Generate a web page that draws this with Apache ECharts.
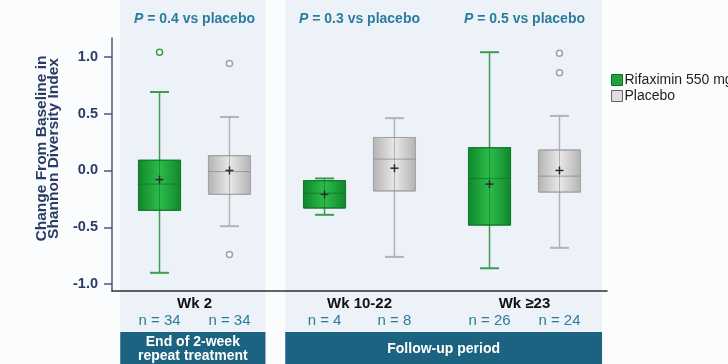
<!DOCTYPE html>
<html><head><meta charset="utf-8">
<script src="https://cdn.jsdelivr.net/npm/echarts@6/dist/echarts.min.js"></script>
<style>html,body{margin:0;padding:0;background:#fbfcfd}#chart{width:728px;height:364px}</style>
</head><body><div id="chart"></div>
<script>
// ---------- data ----------
const groups = ['Wk 2', 'Wk 10-22', 'Wk ≥23'];
const pValues = ['0.4', '0.3', '0.5'];
const rifaxN = [34, 4, 26];
const placeboN = [34, 8, 24];
// [min, Q1, median, Q3, max]
const rifaxBox = [[-0.90, -0.35, -0.12, 0.09, 0.69], [-0.39, -0.33, -0.20, -0.09, -0.07], [-0.86, -0.48, -0.07, 0.20, 1.04]];
const rifaxMean = [-0.08, -0.21, -0.12];
const placeboBox = [[-0.49, -0.21, -0.01, 0.13, 0.47], [-0.76, -0.18, 0.10, 0.29, 0.46], [-0.68, -0.19, -0.05, 0.18, 0.48]];
const placeboMean = [0.00, 0.02, 0.00];
const rifaxOutliers = [[0, 1.04]];
const placeboOutliers = [[0, 0.94], [0, -0.74], [2, 1.03], [2, 0.86]];
const periods = [{ label: 'End of 2-week\nrepeat treatment', first: 0, last: 0 }, { label: 'Follow-up period', first: 1, last: 2 }];
const yTicks = [-1.0, -0.5, 0.0, 0.5, 1.0];
const seriesNames = ['Rifaximin 550 mg', 'Placebo'];
const yAxisTitle = 'Change From Baseline in\nShannon Diversity Index';

// ---------- styles ----------
const FONT = "'Liberation Sans', Arial, Helvetica, sans-serif";
const NAVY = '#2c3b66', TEAL = '#2b7d9c', DARKTEAL = '#1b6380';
const BOX_OFFSET = 0.212, BOX_WIDTH = 0.255, CAP_WIDTH = 0.115, BAND_LEFT = 0.45, BAND_RIGHT = 0.43;
const greenStyle = { whisker: '#3d9c50', border: '#127a2b', inner: 'rgba(20,110,40,0.6)', median: 'rgba(20,110,40,0.7)',
  stops: [{ offset: 0, color: '#10862b' }, { offset: 0.5, color: '#2cbd4b' }, { offset: 1, color: '#10862b' }], outlier: '#3d9c50' };
const grayStyle = { whisker: '#b3b3b3', border: '#a3a3a3', inner: 'rgba(150,150,150,0.7)', median: 'rgba(140,140,140,0.8)',
  stops: [{ offset: 0, color: '#b2b2b2' }, { offset: 0.5, color: '#e9e9e9' }, { offset: 1, color: '#b2b2b2' }], outlier: '#a0a0a0' };

function boxRenderer(side, st) {
  return function (params, api) {
    const gi = api.value(0);
    const bw = api.size([1, 0])[0];
    const cx = api.coord([gi, 0])[0] + side * BOX_OFFSET * bw;
    const w = BOX_WIDTH * bw, cap = CAP_WIDTH * bw;
    const y = k => api.coord([gi, api.value(k)])[1];
    const yMin = y(1), yQ1 = y(2), yMed = y(3), yQ3 = y(4), yMax = y(5), yMean = y(6);
    const line = (x1, y1, x2, y2, stroke, lw) => ({ type: 'line', shape: { x1, y1, x2, y2 }, style: { stroke, lineWidth: lw } });
    return { type: 'group', children: [
      line(cx, yQ3, cx, yMax, st.whisker, 1.5),
      line(cx, yMin, cx, yQ1, st.whisker, 1.5),
      line(cx - cap / 2, yMax, cx + cap / 2, yMax, st.whisker, 2),
      line(cx - cap / 2, yMin, cx + cap / 2, yMin, st.whisker, 2),
      { type: 'rect', shape: { x: cx - w / 2, y: yQ3, width: w, height: yQ1 - yQ3 },
        style: { fill: new echarts.graphic.LinearGradient(0, 0, 1, 0, st.stops), stroke: st.border, lineWidth: 1 } },
      line(cx, yQ3, cx, yQ1, st.inner, 1),
      line(cx - w / 2, yMed, cx + w / 2, yMed, st.median, 1),
      line(cx - 4, yMean, cx + 4, yMean, '#2b2b2b', 1.5),
      line(cx, yMean - 4, cx, yMean + 4, '#2b2b2b', 1.5)
    ] };
  };
}
function outlierRenderer(side, st) {
  return function (params, api) {
    const gi = api.value(0);
    const bw = api.size([1, 0])[0];
    const p = api.coord([gi, api.value(1)]);
    return { type: 'circle', shape: { cx: p[0] + side * BOX_OFFSET * bw, cy: p[1], r: 3 },
      style: { fill: '#ffffff', stroke: st.outlier, lineWidth: 1.5 } };
  };
}

const chart = echarts.init(document.getElementById('chart'), null, { renderer: 'canvas' });
const option = {
  backgroundColor: '#fbfcfd',
  animation: false,
  textStyle: { fontFamily: FONT },
  grid: { left: 112, right: 121, top: 38, bottom: 73 },
  legend: {
    orient: 'vertical', left: 606, top: 68, itemWidth: 11, itemHeight: 11, itemGap: 2,
    textStyle: { fontSize: 14, color: '#1f1f1f', fontFamily: FONT, padding: [0, 0, 0, -3] },
    data: [
      { name: seriesNames[0], icon: 'rect', itemStyle: { color: '#1fa33d', borderColor: '#0e6e24', borderWidth: 1 } },
      { name: seriesNames[1], icon: 'rect', itemStyle: { color: '#dedede', borderColor: '#666666', borderWidth: 1 } }
    ]
  },
  xAxis: {
    type: 'category', data: groups,
    axisLine: { onZero: false, lineStyle: { color: '#2f2f3a', width: 1.5 } },
    axisTick: { show: false },
    axisLabel: { margin: 5, fontSize: 15, fontWeight: 'bold', color: '#111111', fontFamily: FONT },
    splitLine: { show: false }
  },
  yAxis: {
    type: 'value', min: -1.06, max: 1.165,
    name: yAxisTitle, nameLocation: 'middle', nameGap: 47, nameRotate: 90,
    nameTextStyle: { fontSize: 15.5, fontWeight: 'bold', color: NAVY, lineHeight: 12.5, fontFamily: FONT, padding: [0, 0, 0, 32] },
    axisLine: { show: true, lineStyle: { color: '#4a5a7a', width: 1.5 } },
    axisTick: { show: true, length: 8, lineStyle: { color: '#4a5a7a', width: 1.5 }, customValues: yTicks },
    axisLabel: { customValues: yTicks, margin: 14, fontSize: 14.5, fontWeight: 'bold', color: NAVY, fontFamily: FONT,
      formatter: v => v.toFixed(1) },
    splitLine: { show: false }
  },
  series: [
    { name: seriesNames[0], type: 'custom', itemStyle: { color: '#1fa33d' }, encode: { x: 0, y: [1, 2, 3, 4, 5, 6] },
      data: rifaxBox.map((b, i) => [i, ...b, rifaxMean[i]]), renderItem: boxRenderer(-1, greenStyle), z: 3 },
    { name: seriesNames[1], type: 'custom', itemStyle: { color: '#dedede' }, encode: { x: 0, y: [1, 2, 3, 4, 5, 6] },
      data: placeboBox.map((b, i) => [i, ...b, placeboMean[i]]), renderItem: boxRenderer(1, grayStyle), z: 3 },
    { name: seriesNames[0], type: 'custom', encode: { x: 0, y: 1 }, data: rifaxOutliers, renderItem: outlierRenderer(-1, greenStyle), z: 3 },
    { name: seriesNames[1], type: 'custom', encode: { x: 0, y: 1 }, data: placeboOutliers, renderItem: outlierRenderer(1, grayStyle), z: 3 }
  ]
};
chart.setOption(option);

// annotations positioned from the category axis
const centers = groups.map(g => chart.convertToPixel({ xAxisIndex: 0 }, g));
const bw = centers[1] - centers[0];
const gridBottomY = chart.convertToPixel({ yAxisIndex: 0 }, -1.06);
const elements = [];
periods.forEach(p => {
  const x0 = centers[p.first] - BAND_LEFT * bw, x1 = centers[p.last] + (p.last === 0 ? BAND_RIGHT : 0.47) * bw;
  elements.push({ type: 'rect', z: -10, shape: { x: x0, y: 0, width: x1 - x0, height: gridBottomY + 41 }, style: { fill: '#ecf2f8' } });
  elements.push({ type: 'rect', z: 5, shape: { x: x0, y: gridBottomY + 41, width: x1 - x0, height: 40 }, style: { fill: DARKTEAL } });
  elements.push({ type: 'text', z: 6, x: (x0 + x1) / 2, y: gridBottomY + 58,
    style: { text: p.label, fill: '#ffffff', font: 'bold 14px ' + FONT, align: 'center', verticalAlign: 'middle', lineHeight: 14.5 } });
});
groups.forEach((g, i) => {
  elements.push({ type: 'text', z: 6, x: centers[i], y: 19,
    style: { text: '{i|P}{t| = ' + pValues[i] + ' vs placebo}', align: 'center', verticalAlign: 'middle',
      rich: { i: { fontStyle: 'italic', fontWeight: 'bold', fontSize: 14, fill: TEAL, color: TEAL, fontFamily: FONT },
              t: { fontWeight: 'bold', fontSize: 14, fill: TEAL, color: TEAL, fontFamily: FONT } } } });
  [[-1, rifaxN[i]], [1, placeboN[i]]].forEach(([side, n]) => {
    elements.push({ type: 'text', z: 6, x: centers[i] + side * BOX_OFFSET * bw, y: gridBottomY + 30,
      style: { text: 'n = ' + n, fill: TEAL, font: '15px ' + FONT, align: 'center', verticalAlign: 'middle' } });
  });
});
chart.setOption({ graphic: { elements } });
</script>
</body></html>
